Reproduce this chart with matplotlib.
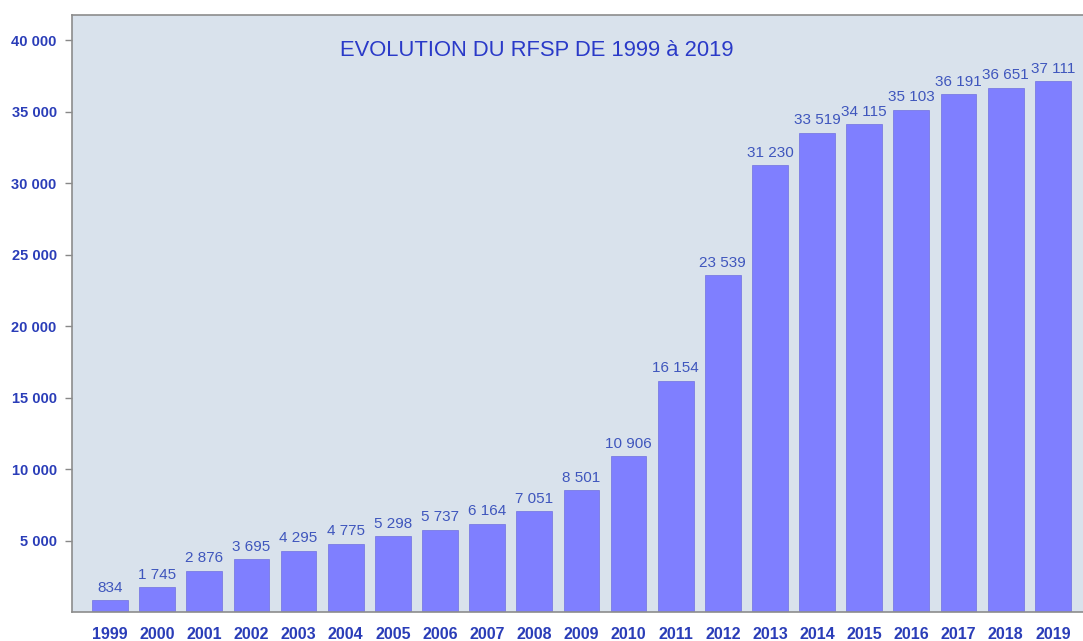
import matplotlib
matplotlib.use("Agg")
import matplotlib.pyplot as plt
from matplotlib.ticker import FuncFormatter

years = [str(y) for y in range(1999, 2020)]
values = [834, 1745, 2876, 3695, 4295, 4775, 5298, 5737, 6164, 7051, 8501,
          10906, 16154, 23539, 31230, 33519, 34115, 35103, 36191, 36651, 37111]
yticks = [5000, 10000, 15000, 20000, 25000, 30000, 35000, 40000]
title = "EVOLUTION DU RFSP DE 1999 à 2019"

def fmt(v):
    return f"{int(v):,}".replace(",", " ")

plt.rcParams['font.family'] = ['Liberation Sans', 'DejaVu Sans']

fig = plt.figure(figsize=(10.83, 6.41), dpi=100, facecolor='white')
ax = fig.add_axes([0.0665, 0.0452, 0.9335, 0.9314])
ax.set_facecolor('#d9e2ec')

x = list(range(len(years)))
bars = ax.bar(x, values, width=0.76, color='#7f7fff', edgecolor='#7070e0', linewidth=0.5, zorder=2)

for xi, v in zip(x, values):
    ax.annotate(fmt(v), (xi, v), xytext=(0, 4), textcoords='offset points',
                ha='center', va='bottom', fontsize=11, color='#3f56bd')

ax.set_xlim(-0.806, 20.64)
ax.set_ylim(0, 41750)
ax.set_yticks(yticks)
ax.yaxis.set_major_formatter(FuncFormatter(lambda v, p: fmt(v)))
ax.set_xticks(x)
ax.set_xticklabels(years)

for lbl in ax.get_yticklabels():
    lbl.set_fontweight('bold')
    lbl.set_color('#2a3db8')
    lbl.set_fontsize(10.5)
for lbl in ax.get_xticklabels():
    lbl.set_fontweight('bold')
    lbl.set_color('#2a3db8')
    lbl.set_fontsize(11.5)

ax.tick_params(axis='y', length=5, width=1, color='#888888', pad=6, direction='out')
ax.tick_params(axis='x', length=0, pad=11)

for side in ['left', 'top', 'bottom']:
    ax.spines[side].set_color('#8c8c8c')
    ax.spines[side].set_linewidth(1.2)
ax.spines['right'].set_visible(False)

ax.text(0.46, 0.941, title, transform=ax.transAxes, ha='center', va='center',
        fontsize=15.8, color='#2a3ac8')

fig.savefig('out.png', dpi=100, facecolor='white')
